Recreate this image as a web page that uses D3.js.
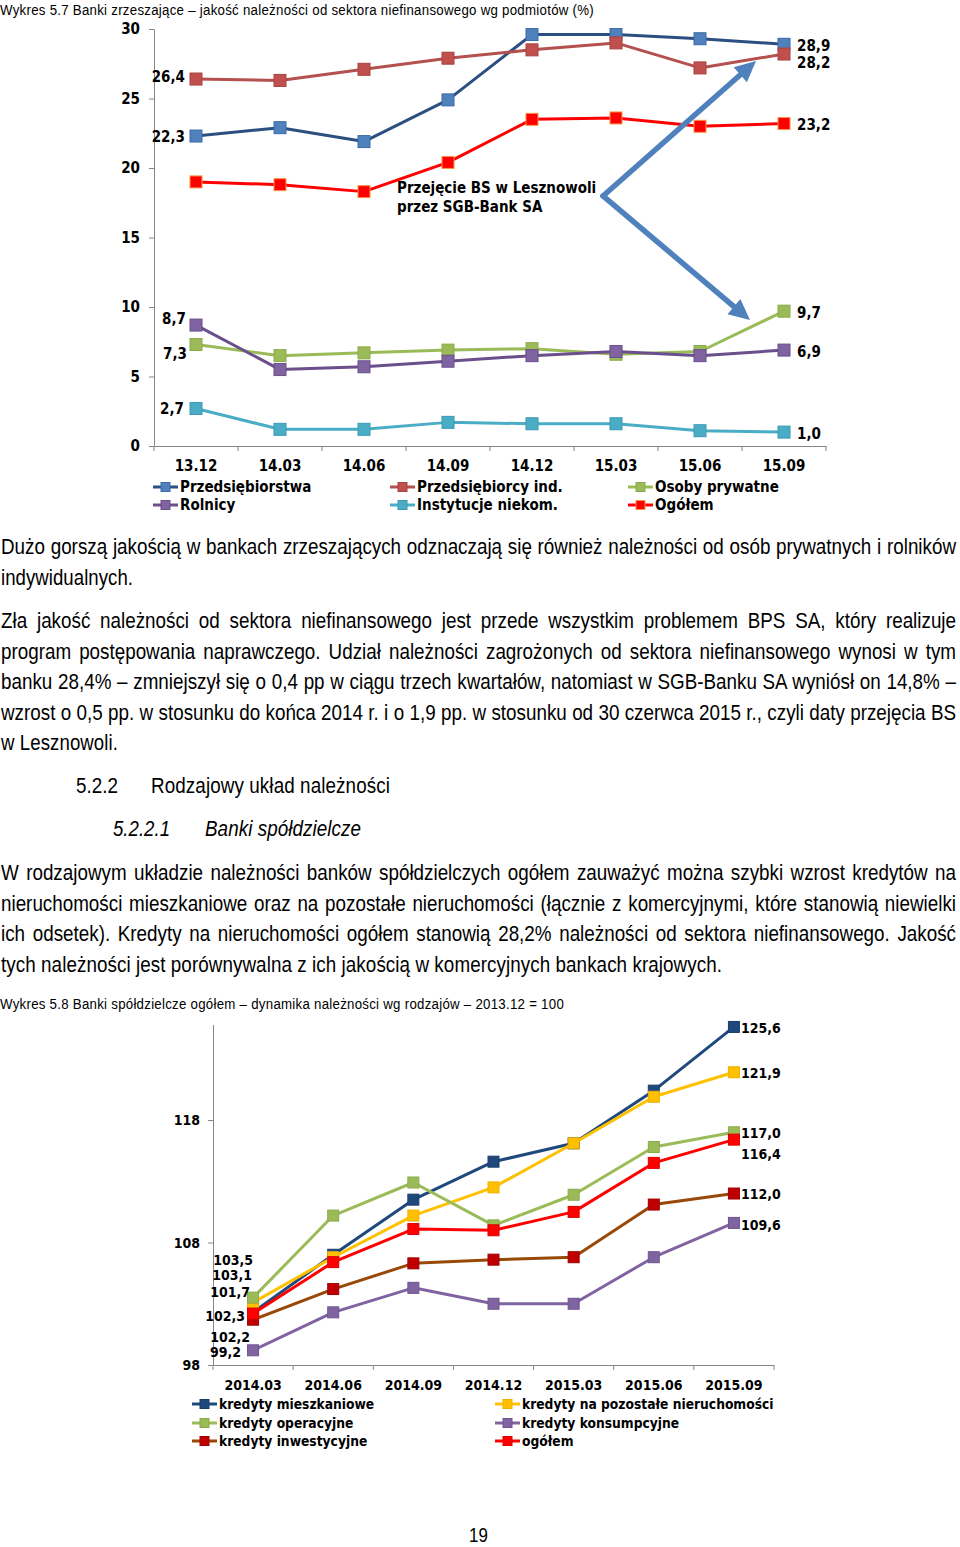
<!DOCTYPE html>
<html><head><meta charset="utf-8">
<script src="https://cdn.jsdelivr.net/npm/d3@7"></script>
<style>
body{margin:0;background:#fff;}
svg{display:block;}
</style></head><body>
<svg id="page" width="960" height="1547"></svg>
<script>
// ---------- Chart 5.7 data ----------
const periods1 = ["13.12","14.03","14.06","14.09","14.12","15.03","15.06","15.09"];
const przedsiebiorstwa = [22.3,22.9,21.9,24.9,29.6,29.6,29.3,28.9];
const przedsiebiorcyInd = [26.4,26.3,27.1,27.9,28.5,29.0,27.2,28.2];
const osobyPrywatne = [7.3,6.5,6.7,6.9,7.0,6.6,6.8,9.7];
const rolnicy = [8.7,5.5,5.7,6.1,6.5,6.8,6.5,6.9];
const instytucjeNiekom = [2.7,1.2,1.2,1.7,1.6,1.6,1.1,1.0];
const ogolem1 = [19.0,18.8,18.3,20.4,23.5,23.6,23.0,23.2];
const yTicks1 = [0,5,10,15,20,25,30];
const names1 = ["Przedsiębiorstwa","Przedsiębiorcy ind.","Osoby prywatne","Rolnicy","Instytucje niekom.","Ogółem"];
const annotation1 = ["Przejęcie BS w Lesznowoli","przez SGB-Bank SA"];

// ---------- Chart 5.8 data ----------
const periods2 = ["2014.03","2014.06","2014.09","2014.12","2015.03","2015.06","2015.09"];
const mieszkaniowe = [102.3,107.0,111.5,114.6,116.1,120.4,125.6];
const pozostaleNieruch = [103.1,106.8,110.2,112.5,116.1,119.9,121.9];
const operacyjne = [103.5,110.2,112.9,109.4,111.9,115.8,117.0];
const konsumpcyjne = [99.2,102.3,104.3,103.0,103.0,106.8,109.6];
const inwestycyjne = [101.7,104.2,106.3,106.6,106.8,111.1,112.0];
const ogolem2 = [102.2,106.4,109.1,109.0,110.5,114.5,116.4];
const yTicks2 = [98,108,118];
const names2 = ["kredyty mieszkaniowe","kredyty na pozostałe nieruchomości","kredyty operacyjne","kredyty konsumpcyjne","kredyty inwestycyjne","ogółem"];

// ---------- Text ----------
const caption1 = "Wykres 5.7 Banki zrzeszające – jakość należności od sektora niefinansowego wg podmiotów (%)";
const caption2 = "Wykres 5.8 Banki spółdzielcze ogółem – dynamika należności wg rodzajów – 2013.12 = 100";
const para1 = ["Dużo gorszą jakością w bankach zrzeszających odznaczają się również należności od osób prywatnych i rolników","indywidualnych."];
const para2 = ["Zła jakość należności od sektora niefinansowego jest przede wszystkim problemem BPS SA, który realizuje",
 "program postępowania naprawczego. Udział należności zagrożonych od sektora niefinansowego wynosi w tym",
 "banku 28,4% – zmniejszył się o 0,4 pp w ciągu trzech kwartałów, natomiast w SGB-Banku SA wyniósł on 14,8% –",
 "wzrost o 0,5 pp. w stosunku do końca 2014 r. i o 1,9 pp. w stosunku od 30 czerwca 2015 r., czyli daty przejęcia BS",
 "w Lesznowoli."];
const heading1 = ["5.2.2","Rodzajowy układ należności"];
const heading2 = ["5.2.2.1","Banki spółdzielcze"];
const para3 = ["W rodzajowym układzie należności banków spółdzielczych ogółem zauważyć można szybki wzrost kredytów na",
 "nieruchomości mieszkaniowe oraz na pozostałe nieruchomości (łącznie z komercyjnymi, które stanowią niewielki",
 "ich odsetek). Kredyty na nieruchomości ogółem stanowią 28,2% należności od sektora niefinansowego. Jakość",
 "tych należności jest porównywalna z ich jakością w komercyjnych bankach krajowych."];
const pageNo = "19";

// ---------- Drawing ----------
const svg = d3.select("#page");
const FONT_C = "Tahoma, 'DejaVu Sans Condensed', 'DejaVu Sans', sans-serif";
const FONT_T = "'Liberation Sans Narrow','Arial Narrow','Liberation Sans',Arial,sans-serif";
const AXIS = "#868686";
const fmt = d3.format(".1f");
const comma = v => fmt(v).replace(".", ",");

// horizontal compression emulating Arial Narrow: the tightest justified line (para1 line 1) fits almost naturally
const NARROW = (function () {
  const t = svg.append("text").attr("font-family", FONT_T).attr("font-size", 22).text(para1[0]);
  const w = t.node().getComputedTextLength();
  t.remove();
  return Math.min(1, 948 / w);
})();

function txt(s, x, y, size, width, opts = {}) {
  const k = NARROW;
  const g = svg.append("g").attr("transform", `translate(${x},${y}) scale(${k},1)`);
  const t = g.append("text").attr("x", 0).attr("y", 0)
    .attr("font-family", opts.family || FONT_T).attr("font-size", size)
    .attr("fill", "#000").text(s);
  if (opts.italic) t.attr("font-style", "italic");
  if (!width) return t;
  const W = width / k;
  let sz = size, w = t.node().getComputedTextLength();
  while (w > W && sz > 8) { sz -= 0.25; t.attr("font-size", sz); w = t.node().getComputedTextLength(); }
  const gap = W - w;
  const spaces = (s.match(/ /g) || []).length;
  if (opts.justify && spaces) t.attr("word-spacing", (gap / spaces).toFixed(3));
  else if (gap > 0 && s.length > 1) t.attr("letter-spacing", (gap / s.length).toFixed(3));
  return t;
}

function chart(c) {
  const g = svg.append("g");
  const x = d3.scaleBand().domain(c.periods).range(c.xRange).paddingInner(0).paddingOuter(0);
  const cx = p => x(p) + x.bandwidth() / 2;
  const y = d3.scaleLinear().domain(c.yDomain).range(c.yRange);
  const xi = d3.scaleLinear().domain([0, c.periods.length - 1]).range([cx(c.periods[0]), cx(c.periods[c.periods.length - 1])]);

  const ya = g.append("g").attr("transform", `translate(${c.xRange[0]},0)`)
    .call(d3.axisLeft(y).tickValues(c.yTicks).tickSize(5).tickSizeOuter(0).tickPadding(c.yPad).tickFormat(d3.format("d")));
  ya.select(".domain").attr("stroke", AXIS);
  ya.selectAll(".tick line").attr("stroke", AXIS);
  ya.selectAll("text").attr("font-family", FONT_C).attr("font-weight", "bold").attr("font-size", c.fs).attr("fill", "#000");

  const xa = g.append("g").attr("transform", `translate(0,${c.yRange[0]})`)
    .call(d3.axisBottom(x).tickSize(0).tickSizeOuter(0));
  xa.select(".domain").attr("stroke", AXIS);
  xa.selectAll("text").attr("y", c.xLabelOff).attr("dy", "0.35em")
    .attr("font-family", FONT_C).attr("font-weight", "bold").attr("font-size", c.fs).attr("fill", "#000");
  const bounds = c.periods.map(p => x(p)).concat([c.xRange[1]]);
  g.append("g").selectAll("line").data(bounds).join("line")
    .attr("x1", d => d).attr("x2", d => d)
    .attr("y1", c.yRange[0]).attr("y2", c.yRange[0] + 5).attr("stroke", AXIS);

  c.series.forEach(s => {
    g.append("path").datum(s.values)
      .attr("d", d3.line().x((d, i) => cx(c.periods[i])).y(d => y(d)))
      .attr("fill", "none").attr("stroke", s.line).attr("stroke-width", c.lw).attr("stroke-linejoin", "round");
    g.append("g").selectAll("rect").data(s.values).join("rect")
      .attr("x", (d, i) => cx(c.periods[i]) - c.ms / 2)
      .attr("y", d => y(d) - c.ms / 2)
      .attr("width", c.ms).attr("height", c.ms)
      .attr("fill", s.marker).attr("stroke", s.markerStroke).attr("stroke-width", 1);
  });

  c.series.forEach((s, si) => {
    const L = c.leftLabels[si];
    if (L) {
      g.append("text").attr("x", cx(c.periods[0]) + L[0]).attr("y", y(s.values[0]) + L[1]).attr("dy", "0.35em")
        .attr("text-anchor", "end").attr("font-family", FONT_C).attr("font-weight", "bold").attr("font-size", c.fs)
        .text(comma(s.values[0]));
    }
    const R = c.rightLabels[si];
    if (R) {
      const n = s.values.length - 1;
      g.append("text").attr("x", cx(c.periods[n]) + R[0]).attr("y", y(s.values[n]) + R[1]).attr("dy", "0.35em")
        .attr("text-anchor", "start").attr("font-family", FONT_C).attr("font-weight", "bold").attr("font-size", c.fs)
        .text(comma(s.values[n]));
    }
  });

  c.series.forEach((s, i) => {
    const col = i % c.legendCols.length, row = Math.floor(i / c.legendCols.length);
    const lx = c.legendCols[col], ly = c.legendRows[row];
    g.append("line").attr("x1", lx).attr("x2", lx + 25).attr("y1", ly).attr("y2", ly)
      .attr("stroke", s.line).attr("stroke-width", c.lw);
    g.append("rect").attr("x", lx + 12.5 - 4.5).attr("y", ly - 4.5).attr("width", 9).attr("height", 9)
      .attr("fill", s.marker).attr("stroke", s.markerStroke).attr("stroke-width", 1);
    g.append("text").attr("x", lx + 27).attr("y", ly).attr("dy", "0.35em")
      .attr("font-family", FONT_C).attr("font-weight", "bold").attr("font-size", c.legendFs || c.fs).text(s.name);
  });

  return {g, x, y, xi};
}

// ---- Chart 5.7
txt(caption1, 0, 15, 15.5, 594);
const c1 = chart({
  periods: periods1, xRange: [154, 826], yDomain: [0, 30], yRange: [446, 29], yTicks: yTicks1, yPad: 9,
  fs: 15, lw: 3, ms: 12, xLabelOff: 20,
  series: [
    {name: names1[0], values: przedsiebiorstwa, line: "#2B4F80", marker: "#4F81BD", markerStroke: "#3C6BA5"},
    {name: names1[1], values: przedsiebiorcyInd, line: "#B4504D", marker: "#C0504D", markerStroke: "#A8423F"},
    {name: names1[2], values: osobyPrywatne, line: "#9BBB59", marker: "#9BBB59", markerStroke: "#8AAA4A"},
    {name: names1[3], values: rolnicy, line: "#6A4F8C", marker: "#7F64A1", markerStroke: "#6A4F8C"},
    {name: names1[4], values: instytucjeNiekom, line: "#4BACC6", marker: "#4BACC6", markerStroke: "#3A9AB4"},
    {name: names1[5], values: ogolem1, line: "#FF0000", marker: "#FF0000", markerStroke: "#F79646"}
  ],
  leftLabels: [[-11, 1], [-11, -2], [-9, 9], [-10, -6], [-12, 0], null],
  rightLabels: [[13, 1], [13, 9], [13, 2], [13, 2], [13, 2], [13, 1]],
  legendCols: [153, 390, 628], legendRows: [487, 505]
});

// annotation arrow (data space: category index, value)
(function () {
  const {g, xi, y} = c1;
  const vertex = [4.845, 17.99], tipTop = [6.667, 27.7], tipBot = [6.595, 9.06];
  const P = p => [xi(p[0]), y(p[1])];
  const V = P(vertex);
  [P(tipTop), P(tipBot)].forEach(T => {
    const dx = T[0] - V[0], dy = T[1] - V[1], len = Math.hypot(dx, dy);
    const ux = dx / len, uy = dy / len, hl = 21, hw = 10;
    const B = [T[0] - ux * hl, T[1] - uy * hl];
    g.append("line").attr("x1", V[0]).attr("y1", V[1]).attr("x2", B[0] + ux * 2).attr("y2", B[1] + uy * 2)
      .attr("stroke", "#4F81BD").attr("stroke-width", 5.5).attr("stroke-linecap", "round");
    g.append("polygon").attr("points", [T, [B[0] - uy * hw, B[1] + ux * hw], [B[0] + uy * hw, B[1] - ux * hw]].map(p => p.join(",")).join(" "))
      .attr("fill", "#4F81BD");
  });
  annotation1.forEach((s, i) => {
    g.append("text").attr("x", xi(2.393)).attr("y", y(18.56) + i * 19).attr("dy", "0.35em")
      .attr("font-family", FONT_C).attr("font-weight", "bold").attr("font-size", 15).text(s);
  });
})();

// ---- Text block
const LH = 30.6;
txt(para1[0], 1, 554, 22, 955, {justify: true});
txt(para1[1], 1, 554 + LH, 22, 132);
const p2w = [955, 955, 955, 955, 117];
para2.forEach((s, i) => txt(s, 1, 628 + i * LH, 22, p2w[i], {justify: i < 4}));
txt(heading1[0], 76, 792.5, 22, 42);
txt(heading1[1], 151, 792.5, 22, 239);
txt(heading2[0], 113, 836, 22, 57, {italic: true});
txt(heading2[1], 205, 836, 22, 156, {italic: true});
const p3w = [955, 955, 955, 721];
para3.forEach((s, i) => txt(s, 1, 880 + i * LH, 22, p3w[i], {justify: i < 3}));
txt(caption2, 0, 1009, 15.5, 564);

// ---- Chart 5.8
chart({
  periods: periods2, xRange: [213, 774], yDomain: [98, 125.8], yRange: [1365, 1024.5], yTicks: yTicks2, yPad: 8,
  fs: 14, legendFs: 13.7, lw: 3, ms: 11, xLabelOff: 20,
  series: [
    {name: names2[0], values: mieszkaniowe, line: "#1F497D", marker: "#1F497D", markerStroke: "#1A3E6B"},
    {name: names2[1], values: pozostaleNieruch, line: "#FFC000", marker: "#FFC000", markerStroke: "#F0B000"},
    {name: names2[2], values: operacyjne, line: "#9BBB59", marker: "#9BBB59", markerStroke: "#8AAA4A"},
    {name: names2[3], values: konsumpcyjne, line: "#8064A2", marker: "#8064A2", markerStroke: "#6E5390"},
    {name: names2[4], values: inwestycyjne, line: "#984807", marker: "#C00000", markerStroke: "#A00000"},
    {name: names2[5], values: ogolem2, line: "#FF0000", marker: "#FF0000", markerStroke: "#E00000"}
  ],
  leftLabels: [[-8, 4], [-1, -27], [0, -38], [-12, 2], [-3, -28], [-3, 24]],
  rightLabels: [[7, 1], [7, 1], [7, 1], [7, 2], [7, 1], [7, 14]],
  legendCols: [192, 495], legendRows: [1404, 1423, 1441]
});

txt(pageNo, 469, 1542, 20, 19);
</script>
</body></html>
